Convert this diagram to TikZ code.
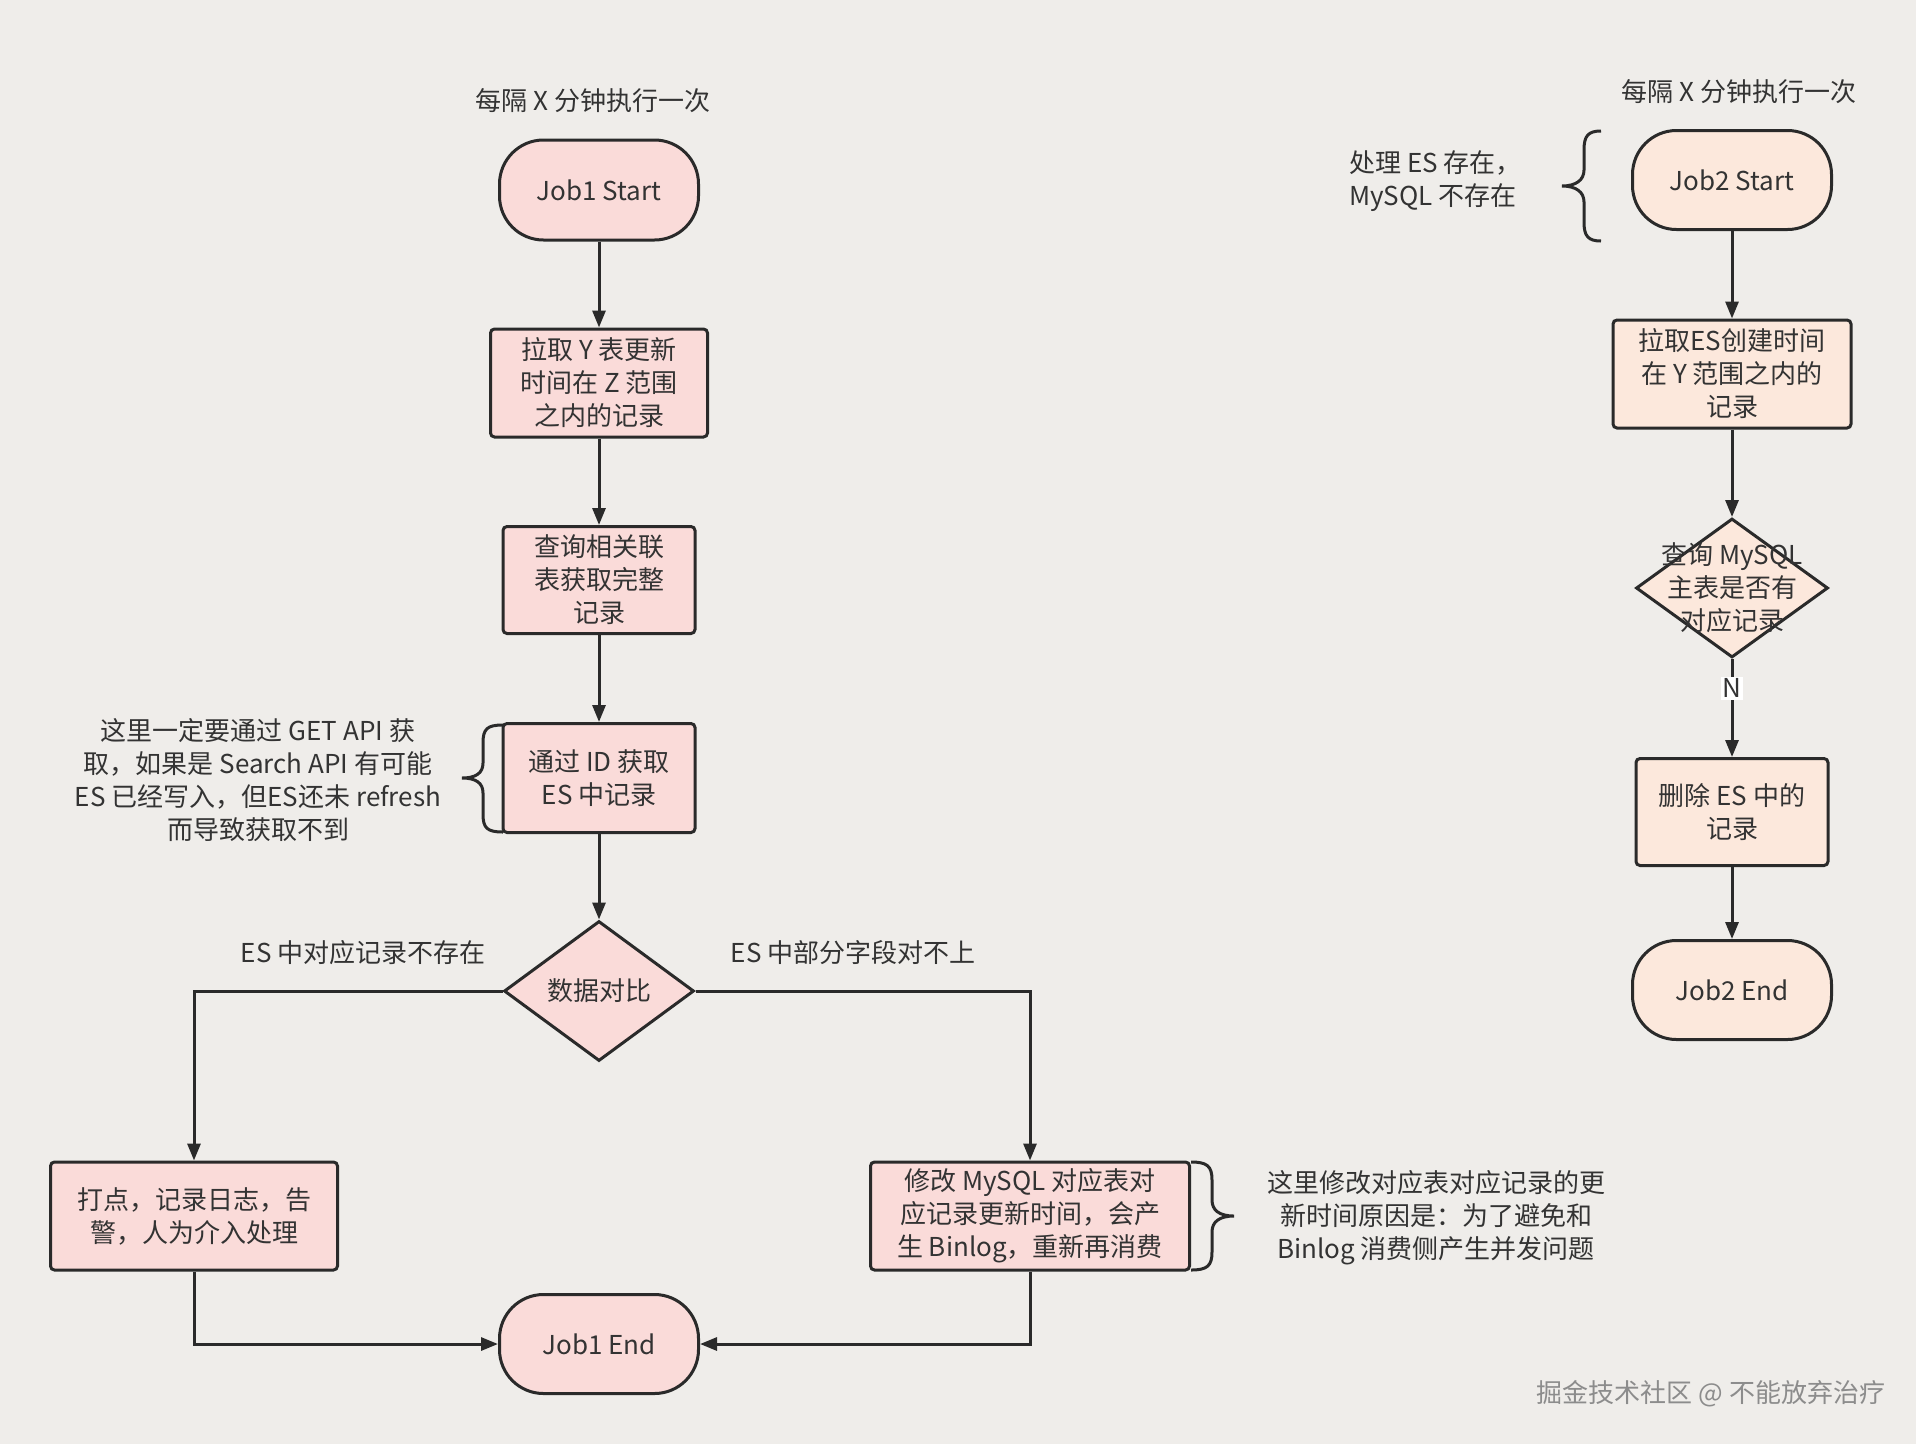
\documentclass[tikz,border=0pt]{standalone}
\usepackage{fontspec}
\setmainfont{Noto Sans CJK SC}
\usetikzlibrary{shapes.geometric,arrows.meta}
\definecolor{bgc}{HTML}{EFEDEA}
\definecolor{pinkc}{HTML}{FADBD9}
\definecolor{peachc}{HTML}{FCE8DC}
\definecolor{linec}{HTML}{2A2A2A}
\definecolor{txtc}{HTML}{333333}
\tikzset{
  base/.style={draw=linec, line width=3pt, text=txtc, align=center, inner sep=0pt,
    font=\fontsize{26pt}{33pt}\selectfont},
  termbox/.style={base, rectangle, rounded corners=44pt, minimum width=199pt, minimum height=100pt},
  procbox/.style={base, rectangle, rounded corners=4pt, minimum height=108pt},
  diabox/.style={draw=linec, line width=3pt, diamond, inner sep=0pt},
  txt/.style={text=txtc, align=center, inner sep=0pt, font=\fontsize{26pt}{33pt}\selectfont},
  arr/.style={draw=linec, line width=3pt, -{Triangle[length=17pt,width=13pt]}},
  brc/.style={draw=linec, line width=3pt},
}
\begin{document}
\begin{tikzpicture}[x=1pt,y=-1pt]
\fill[bgc] (0,0) rectangle (1916,1444);
\useasboundingbox (0,0) rectangle (1916,1444);

% ---------- Job1 ----------
\node[txt] (t1) at (593,101) {每隔 X 分钟执行一次};
\node[termbox, fill=pinkc] (s1) at (599,190) {Job1 Start};
\node[procbox, fill=pinkc, minimum width=217pt] (b1) at (599,383) {拉取 Y 表更新\\时间在 Z 范围\\之内的记录};
\node[procbox, fill=pinkc, minimum width=192pt, minimum height=107pt] (b2) at (599,580) {查询相关联\\表获取完整\\记录};
\node[procbox, fill=pinkc, minimum width=192pt, minimum height=109pt] (b3) at (599,778) {通过 ID 获取\\ES 中记录};
\node[diabox, fill=pinkc, minimum width=190pt, minimum height=140pt] (d1) at (599,991) {};
\node[txt] (d1t) at (d1) {数据对比};
\node[procbox, fill=pinkc, minimum width=287pt] (lb) at (194,1216) {打点，记录日志，告\\警，人为介入处理};
\node[procbox, fill=pinkc, minimum width=319pt] (rb) at (1030,1216) {修改 MySQL 对应表对\\应记录更新时间，会产\\生 Binlog，重新再消费};
\node[termbox, fill=pinkc, minimum height=99pt] (e1) at (599,1344) {Job1 End};

\draw[arr] (s1) -- (b1);
\draw[arr] (b1) -- (b2);
\draw[arr] (b2) -- (b3);
\draw[arr] (b3) -- (d1.north);
\draw[arr] (d1.west) -| (lb.north);
\draw[arr] (d1.east) -| (rb.north);
\draw[arr] (lb.south) |- (e1.west);
\draw[arr] (rb.south) |- (e1.east);

\node[txt] (l1) at (363,953) {ES 中对应记录不存在};
\node[txt] (l2) at (853,953) {ES 中部分字段对不上};

% left annotation
\node[txt] (n1) at (258,780) {这里一定要通过 GET API 获\\取，如果是 Search API 有可能\\ES 已经写入，但ES还未 refresh\\而导致获取不到};
\draw[brc] (503,725) .. controls (487,725) and (483,729) .. (483,743) -- (483,763)
  .. controls (483,773) and (476,778) .. (462,778)
  .. controls (476,778) and (483,783) .. (483,793) -- (483,814)
  .. controls (483,828) and (487,832) .. (503,832);

% right annotation
\draw[brc] (1191,1162) .. controls (1207,1162) and (1212,1166) .. (1212,1180) -- (1212,1200)
  .. controls (1212,1210) and (1219,1216) .. (1234,1216)
  .. controls (1219,1216) and (1212,1222) .. (1212,1232) -- (1212,1252)
  .. controls (1212,1266) and (1207,1270) .. (1191,1270);
\node[txt] (n2) at (1436,1218) {这里修改对应表对应记录的更\\新时间原因是：为了避免和\\Binlog 消费侧产生并发问题};

% ---------- Job2 ----------
\node[txt] (t2) at (1739,92) {每隔 X 分钟执行一次};
\node[termbox, fill=peachc, minimum height=99pt] (s2) at (1732,180) {Job2 Start};
\node[procbox, fill=peachc, minimum width=238pt] (b5) at (1732,374) {拉取ES创建时间\\在 Y 范围之内的\\记录};
\node[diabox, fill=peachc, minimum width=192pt, minimum height=139pt] (d2) at (1732,588) {};
\node[txt] (d2t) at (d2) {查询 MySQL\\主表是否有\\对应记录};
\node[procbox, fill=peachc, minimum width=192pt, minimum height=107pt] (b6) at (1732,812) {删除 ES 中的\\记录};
\node[termbox, fill=peachc, minimum height=99pt] (e2) at (1732,990) {Job2 End};

\draw[arr] (s2) -- (b5);
\draw[arr] (b5) -- (d2.north);
\draw[arr] (d2.south) -- node[pos=0.3, fill=white, text=txtc, inner sep=2pt, font=\fontsize{26pt}{33pt}\selectfont] {N} (b6);
\draw[arr] (b6) -- (e2);

\draw[brc] (1601,131) .. controls (1588,131) and (1584,136) .. (1584,150) -- (1584,170)
  .. controls (1584,180) and (1576,186) .. (1562,186)
  .. controls (1576,186) and (1584,192) .. (1584,202) -- (1584,222)
  .. controls (1584,236) and (1588,241) .. (1601,241);
\node[txt, align=left, anchor=west] (n3) at (1349,181) {处理 ES 存在，\\MySQL 不存在};

% watermark
\node[text=black!45, inner sep=0pt, font=\fontsize{26pt}{30pt}\selectfont] (wm) at (1711,1394) {掘金技术社区 @ 不能放弃治疗};
\end{tikzpicture}
\end{document}
